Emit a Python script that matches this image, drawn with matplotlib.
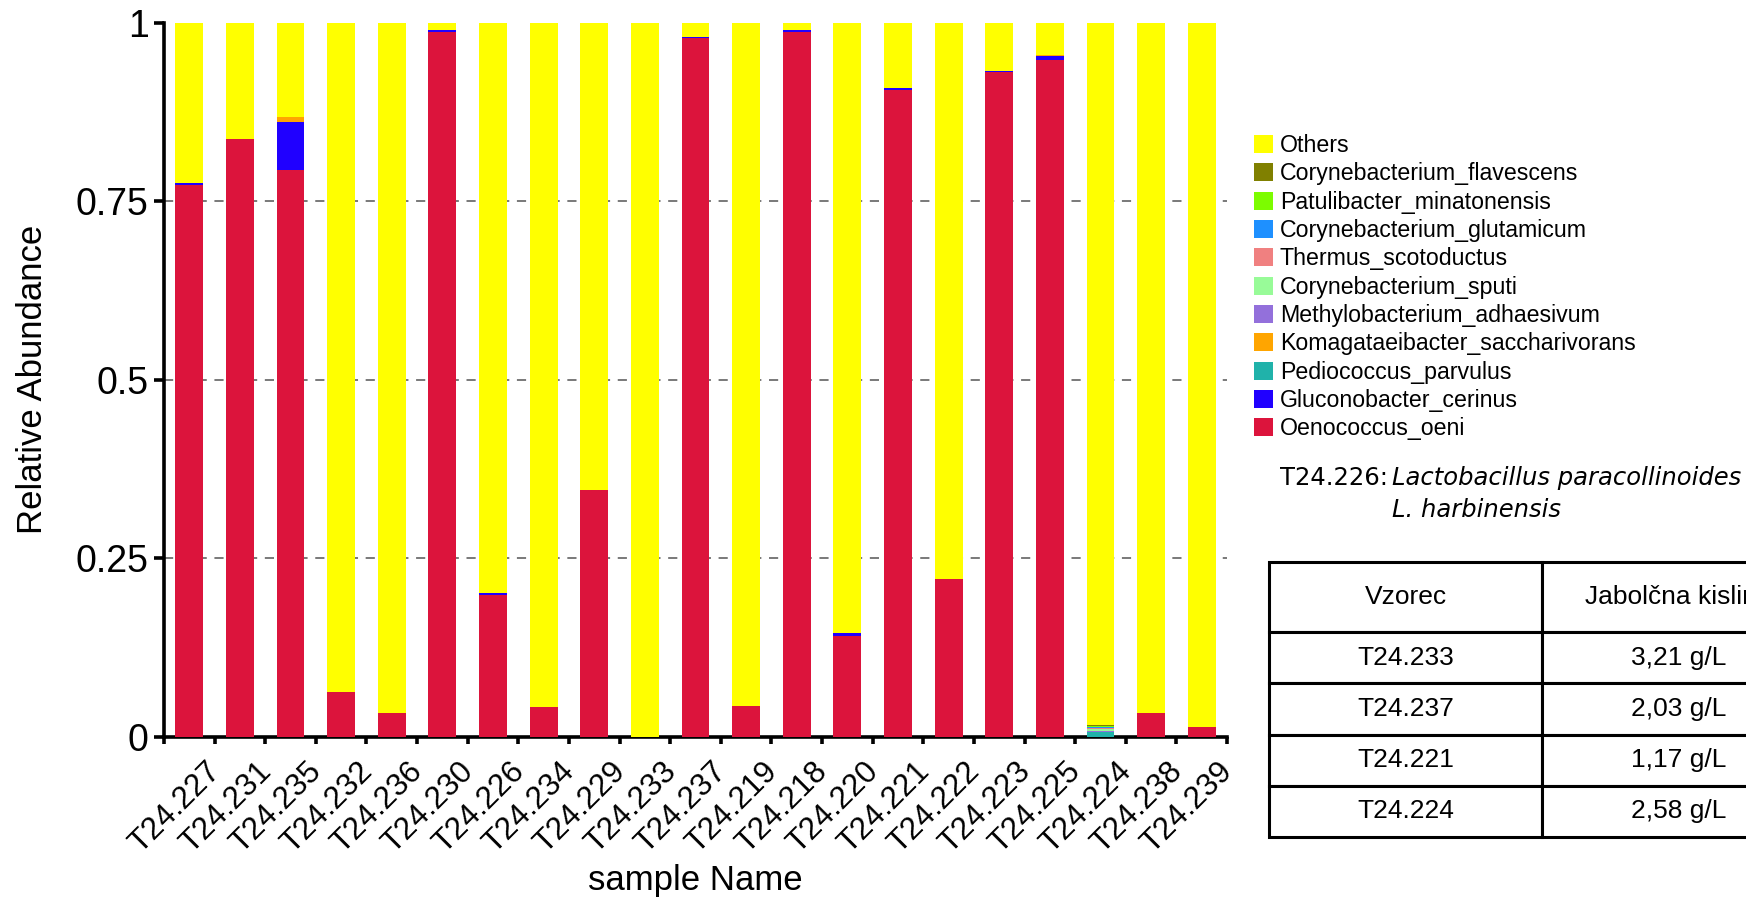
import matplotlib
matplotlib.use('Agg')
import matplotlib.pyplot as plt
import matplotlib.transforms as mtransforms
import numpy as np

plt.rcParams['font.family'] = 'Liberation Sans'

# samples in plotted order
samples = ['T24.227', 'T24.231', 'T24.235', 'T24.232', 'T24.236', 'T24.230', 'T24.226',
           'T24.234', 'T24.229', 'T24.233', 'T24.237', 'T24.219', 'T24.218', 'T24.220',
           'T24.221', 'T24.222', 'T24.223', 'T24.225', 'T24.224', 'T24.238', 'T24.239']

# relative abundances per taxon (bottom -> top of the stack)
oenococcus_oeni = [0.772, 0.837, 0.793, 0.063, 0.034, 0.987, 0.199, 0.042, 0.346, 0.0, 0.978,
                   0.043, 0.987, 0.142, 0.906, 0.221, 0.931, 0.948, 0.0, 0.034, 0.014]
gluconobacter_cerinus = [0.004, 0, 0.068, 0, 0, 0.002, 0.002, 0, 0, 0, 0.002,
                         0, 0.002, 0.003, 0.003, 0, 0.001, 0.005, 0, 0, 0]
pediococcus_parvulus = [0, 0, 0, 0, 0, 0, 0, 0, 0, 0, 0,
                        0, 0, 0, 0, 0, 0, 0, 0.007, 0, 0]
komagataeibacter_sacch = [0, 0, 0.007, 0, 0, 0, 0, 0, 0, 0, 0,
                          0, 0, 0, 0, 0, 0, 0.001, 0, 0, 0]
methylobacterium_adh = [0, 0, 0, 0, 0, 0, 0, 0, 0, 0, 0,
                        0, 0, 0, 0, 0, 0, 0, 0.002, 0, 0]
corynebacterium_sputi = [0, 0, 0, 0, 0, 0, 0, 0, 0, 0, 0,
                         0, 0, 0, 0, 0, 0, 0, 0.002, 0, 0]
thermus_scotoductus = [0, 0, 0, 0, 0, 0, 0, 0, 0, 0, 0,
                       0, 0, 0, 0, 0, 0, 0, 0.0015, 0, 0]
corynebacterium_glut = [0, 0, 0, 0, 0, 0, 0, 0, 0, 0, 0,
                        0, 0, 0, 0, 0, 0, 0, 0.0015, 0, 0]
patulibacter_min = [0, 0, 0, 0, 0, 0, 0, 0, 0, 0, 0,
                    0, 0, 0, 0, 0, 0, 0, 0.0015, 0, 0]
corynebacterium_flav = [0, 0, 0, 0, 0, 0, 0, 0, 0, 0, 0,
                        0, 0, 0, 0, 0, 0, 0, 0.0015, 0, 0]
others = [0.224, 0.163, 0.132, 0.937, 0.966, 0.011, 0.799, 0.958, 0.654, 1.0, 0.020,
          0.957, 0.011, 0.855, 0.091, 0.779, 0.068, 0.046, 0.9825, 0.966, 0.986]

taxa = ['Oenococcus_oeni', 'Gluconobacter_cerinus', 'Pediococcus_parvulus',
        'Komagataeibacter_saccharivorans', 'Methylobacterium_adhaesivum',
        'Corynebacterium_sputi', 'Thermus_scotoductus', 'Corynebacterium_glutamicum',
        'Patulibacter_minatonensis', 'Corynebacterium_flavescens', 'Others']
series = [oenococcus_oeni, gluconobacter_cerinus, pediococcus_parvulus,
          komagataeibacter_sacch, methylobacterium_adh, corynebacterium_sputi,
          thermus_scotoductus, corynebacterium_glut, patulibacter_min,
          corynebacterium_flav, others]
colors = ['#DC143C', '#2000FF', '#20B2AA', '#FFA500', '#9370DB', '#98FB98',
          '#F08080', '#1E90FF', '#7CFC00', '#808000', '#FFFF00']

# side table
table_header = ['Vzorec', 'Jabolčna kislina']
table_samples = ['T24.233', 'T24.237', 'T24.221', 'T24.224']
table_malic = ['3,21 g/L', '2,03 g/L', '1,17 g/L', '2,58 g/L']

W, H = 1746, 897
fig = plt.figure(figsize=(W / 100, H / 100), dpi=100)
ax = fig.add_axes([164 / W, 1 - 737 / H, (1227 - 164) / W, (737 - 22.5) / H])

x = np.arange(len(samples))
bottom = np.zeros(len(samples))
for name, vals, col in zip(taxa, series, colors):
    ax.bar(x, vals, width=0.55, bottom=bottom, color=col, label=name,
           linewidth=0, zorder=3)
    bottom += np.array(vals)

ax.set_xlim(-0.5, len(samples) - 0.5)
ax.set_ylim(0, 1)

# dashed reference lines
for yv in [0.25, 0.5, 0.75]:
    ax.axhline(yv, color='#555555', linestyle=(0, (6, 5)), linewidth=1.1, zorder=1)

for s in ['top', 'right']:
    ax.spines[s].set_visible(False)
for s in ['left', 'bottom']:
    ax.spines[s].set_linewidth(2.6)

ax.set_yticks([0, 0.25, 0.5, 0.75, 1])
ax.set_yticklabels(['0', '0.25', '0.5', '0.75', '1'], fontsize=27)
ax.tick_params(axis='y', direction='out', length=7, width=2.6, pad=4)

ax.set_xticks(x)
ax.set_xticklabels(samples, rotation=45, ha='right', rotation_mode='anchor', fontsize=22.5)
ax.tick_params(axis='x', which='major', length=0, pad=14)
shift = mtransforms.ScaledTranslation(16 / 100, 0, fig.dpi_scale_trans)
for lab in ax.get_xticklabels():
    lab.set_transform(lab.get_transform() + shift)
ax.set_xticks(np.arange(-0.5, len(samples)), minor=True)
ax.tick_params(axis='x', which='minor', direction='out', length=5, width=2.6)

ax.set_ylabel('Relative Abundance', fontsize=25)
ax.yaxis.set_label_coords(-0.108, 0.5)
ax.set_xlabel('sample Name', fontsize=25)
ax.xaxis.set_label_coords(0.5, -0.178)

# legend, reversed so Others is on top
h, l = ax.get_legend_handles_labels()
fig.legend(h[::-1], l[::-1], loc='upper left', bbox_to_anchor=(1254 / W, 1 - 134 / H),
           frameon=False, fontsize=16.7, handlelength=0.82, handleheight=0.82,
           handletextpad=0.3, labelspacing=0.23, borderpad=0, borderaxespad=0)

# annotation
fig.text(1280 / W, 1 - 485 / H, 'T24.226:', fontsize=17.5, family='DejaVu Sans', va='baseline')
fig.text(1392 / W, 1 - 485 / H, 'Lactobacillus paracollinoides', fontsize=17.5,
         family='DejaVu Sans', style='italic', va='baseline')
fig.text(1392 / W, 1 - 517 / H, 'L. harbinensis', fontsize=17.5,
         family='DejaVu Sans', style='italic', va='baseline')

# table (runs past the right edge, as in the reference)
tax = fig.add_axes([1269 / W, 1 - 837 / H, (1815 - 1269) / W, (837 - 562) / H])
tax.axis('off')
cells = [[s, v] for s, v in zip(table_samples, table_malic)]
tbl = tax.table(cellText=cells, colLabels=table_header, cellLoc='center',
                bbox=[0, 0, 1, 1])
tbl.auto_set_font_size(False)
for (r, c), cell in tbl.get_celld().items():
    cell.set_height(70 if r == 0 else 51.25)
    cell.set_linewidth(2.2)
    cell.set_edgecolor('black')
    cell.get_text().set_fontsize(19)

fig.savefig('out.png', dpi=100)
